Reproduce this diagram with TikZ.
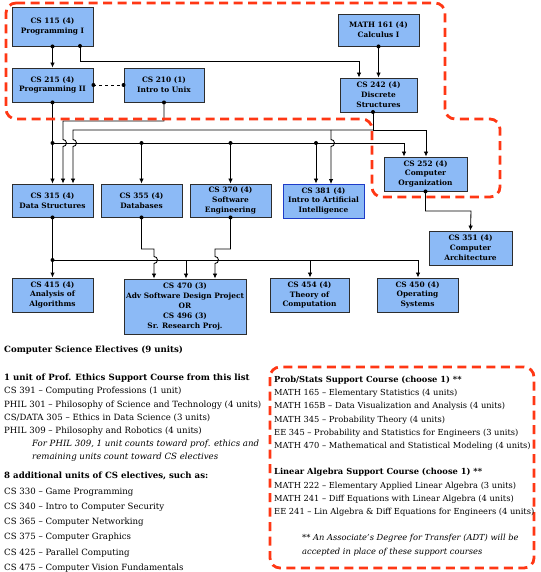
\documentclass[tikz,border=0pt]{standalone}
\usepackage{fontspec}
\setmainfont{DejaVu Serif}
\usetikzlibrary{arrows.meta}
\definecolor{boxblue}{RGB}{140,186,246}
\definecolor{boxline}{RGB}{45,45,45}
\definecolor{ailine}{RGB}{30,60,200}
\definecolor{hilite}{RGB}{255,55,20}
\begin{document}
\begin{tikzpicture}[x=1pt,y=-1pt,
	course/.style={draw=boxline,fill=boxblue,line width=.9pt,align=center,
		inner sep=1pt,minimum width=81pt,minimum height=34pt,
		font=\bfseries\fontsize{7.4}{9.8}\selectfont},
	link/.style={line width=.85pt,-{Latex[length=5pt,width=4.5pt]}},
	wire/.style={line width=.85pt},
	region/.style={draw=hilite,line width=2.8pt,dash pattern=on 9pt off 5.5pt,
		rounded corners=10pt},
	listing/.style={anchor=north west,align=left,inner sep=0pt,
		font=\fontsize{8.6}{13.2}\selectfont}]
	\useasboundingbox (0,0) rectangle (540,572);
	\clip (0,0) rectangle (540,572);
	
	% courses
	\node[course,minimum height=39pt] (cs115) at (52.5,26.5) {CS 115 (4)\\Programming I};
	\node[course] (cs215) at (52.5,85) {CS 215 (4)\\Programming II};
	\node[course,minimum width=80pt] (cs210) at (164,85) {CS 210 (1)\\Intro to Unix};
	\node[course,minimum height=32pt] (math161) at (378.5,30) {MATH 161 (4)\\Calculus I};
	\node[course,minimum width=77pt] (cs242) at (378.5,95) {CS 242 (4)\\Discrete\\Structures};
	\node[course,minimum width=83pt] (cs252) at (425.5,174) {CS 252 (4)\\Computer\\Organization};
	\node[course,minimum height=33pt] (cs315) at (52.5,200.5) {CS 315 (4)\\Data Structures};
	\node[course,minimum height=33pt] (cs355) at (141.5,200.5) {CS 355 (4)\\Databases};
	\node[course,minimum height=33pt] (cs370) at (230.5,200.5) {CS 370 (4)\\Software\\Engineering};
	\node[course,draw=ailine] (cs381) at (323.5,201) {CS 381 (4)\\Intro to Artificial\\Intelligence};
	\node[course,minimum width=83pt] (cs351) at (470.5,248) {CS 351 (4)\\Computer\\Architecture};
	\node[course] (cs415) at (52.5,295) {CS 415 (4)\\Analysis of\\Algorithms};
	\node[course,minimum width=122pt,minimum height=55pt] (cs470) at (185,306.5)
		{CS 470 (3)\\Adv Software Design Project\\OR\\CS 496 (3)\\Sr. Research Proj.};
	\node[course,minimum width=79pt] (cs454) at (309.5,295) {CS 454 (4)\\Theory of\\Computation};
	\node[course] (cs450) at (417.5,295) {CS 450 (4)\\Operating\\Systems};
	
	% top rows
	\fill (cs115.south) circle (2pt);
	\draw[link] (cs115.south) -- (cs215.north);
	\coordinate (p115) at (80,46);
	\coordinate (k242) at (359,61);
	\fill (p115) circle (2pt);
	\draw[link] (p115) |- (k242) -- (k242 |- cs242.north);
	\fill (math161.south) circle (2pt);
	\draw[link] (math161.south) -- (cs242.north);
	\draw[wire,dash pattern=on 3pt off 3pt] (cs215.east) -- (cs210.west);
	\fill (cs215.east) circle (2pt);
	\fill (cs210.west) circle (2pt);
	
	% from CS 215
	\fill (cs215.south) circle (2pt);
	\draw[link] (cs215.south) -- (cs315.north);
	\coordinate (j215) at (52.5,143);
	\coordinate (e252) at (404,143);
	\fill (j215) circle (2pt);
	\draw[link] (j215) -- (e252) -- (e252 |- cs252.north);
	\foreach \x/\n in {141.5/cs355,230.5/cs370,316/cs381}{
		\coordinate (t) at (\x,143);
		\fill (t) circle (2pt);
		\draw[link] (t) -- (t |- \n.north);
	}
	
	% from CS 210
	\coordinate (h210) at (63,121);
	\fill (cs210.south) circle (2pt);
	\draw[link] (cs210.south) |- (h210) -- (63,139.5)
		arc[start angle=90,end angle=-90,radius=3.5pt] -- (h210 |- cs315.north);
	
	% from CS 242
	\coordinate (x242) at (373,112);
	\coordinate (j242) at (373,130);
	\coordinate (w242) at (73,130);
	\coordinate (e242) at (426,130);
	\fill (x242) circle (2pt);
	\draw[wire] (x242) -- (j242);
	\draw[link] (j242) -- (w242) -- (73,139.5)
		arc[start angle=90,end angle=-90,radius=3.5pt] -- (w242 |- cs315.north);
	\draw[link] (j242) -- (e242) -- (e242 |- cs252.north);
	\draw[link] (331,130) -- (331,139.5)
		arc[start angle=90,end angle=-90,radius=3.5pt] -- (331,184);
	
	% from CS 252
	\coordinate (h252) at (471,211);
	\fill (cs252.south) circle (2pt);
	\draw[link] (cs252.south) |- (h252) -- (cs351.north);
	
	% from CS 315
	\coordinate (j315) at (52.5,260);
	\coordinate (e315) at (418,260);
	\fill (cs315.south) circle (2pt);
	\draw[link,line width=1.3pt] (cs315.south) -- (cs415.north);
	\fill (j315) circle (2pt);
	\draw[link] (j315) -- (e315) -- (e315 |- cs450.north);
	\foreach \x/\n in {186/cs470,310/cs454}{
		\coordinate (t) at (\x,260);
		\draw[link] (t) -- (t |- \n.north);
	}
	
	% from CS 355 and CS 370
	\coordinate (h355) at (154,249);
	\coordinate (h370) at (215,249);
	\fill (cs355.south) circle (2pt);
	\draw[link] (cs355.south) |- (h355) -- (154,256.5)
		arc[start angle=90,end angle=-90,radius=3.5pt] -- (h355 |- cs470.north);
	\fill (cs370.south) circle (2pt);
	\draw[link] (cs370.south) |- (h370) -- (215,256.5)
		arc[start angle=90,end angle=-90,radius=3.5pt] -- (h370 |- cs470.north);
	
	% red outlines
	\draw[region] (6,3) -- (445,3) -- (445,119) -- (500,119) -- (500,197)
		-- (372,197) -- (372,119) -- (6,119) -- cycle;
	\draw[region] (270,367) rectangle (534,568);
	
	% electives
	\node[listing,font=\bfseries\fontsize{8.6}{13.2}\selectfont] (electives) at (4,346)
		{Computer Science Electives (9 units)};
	\node[listing] (ethics) at (4,374) {\textbf{1 unit of Prof. Ethics Support Course from this list}\\
		CS 391 – Computing Professions (1 unit)\\
		PHIL 301 – Philosophy of Science and Technology (4 units)\\
		CS/DATA 305 – Ethics in Data Science (3 units)\\
		PHIL 309 – Philosophy and Robotics (4 units)\\
		\hspace*{28pt}\textit{For PHIL 309, 1 unit counts toward prof. ethics and}\\
		\hspace*{28pt}\textit{remaining units count toward CS electives}};
	\node[listing,font=\fontsize{8.6}{15.3}\selectfont] (extra) at (4,472)
		{\textbf{8 additional units of CS electives, such as:}\\
		CS 330 – Game Programming\\
		CS 340 – Intro to Computer Security\\
		CS 365 – Computer Networking\\
		CS 375 – Computer Graphics\\
		CS 425 – Parallel Computing\\
		CS 475 – Computer Vision Fundamentals};
	\node[listing,font=\fontsize{8.3}{13.2}\selectfont] (support) at (274,376)
		{\textbf{Prob/Stats Support Course (choose 1) **}\\
		MATH 165 – Elementary Statistics (4 units)\\
		MATH 165B – Data Visualization and Analysis (4 units)\\
		MATH 345 – Probability Theory (4 units)\\
		EE 345 – Probability and Statistics for Engineers (3 units)\\
		MATH 470 – Mathematical and Statistical Modeling (4 units)\\[13.2pt]
		\textbf{Linear Algebra Support Course (choose 1) **}\\
		MATH 222 – Elementary Applied Linear Algebra (3 units)\\
		MATH 241 – Diff Equations with Linear Algebra (4 units)\\
		EE 241 – Lin Algebra \& Diff Equations for Engineers (4 units)};
	\node[listing,font=\itshape\fontsize{8.3}{14}\selectfont] (adt) at (302,534)
		{** An Associate's Degree for Transfer (ADT) will be\\
		accepted in place of these support courses};
\end{tikzpicture}
\end{document}
